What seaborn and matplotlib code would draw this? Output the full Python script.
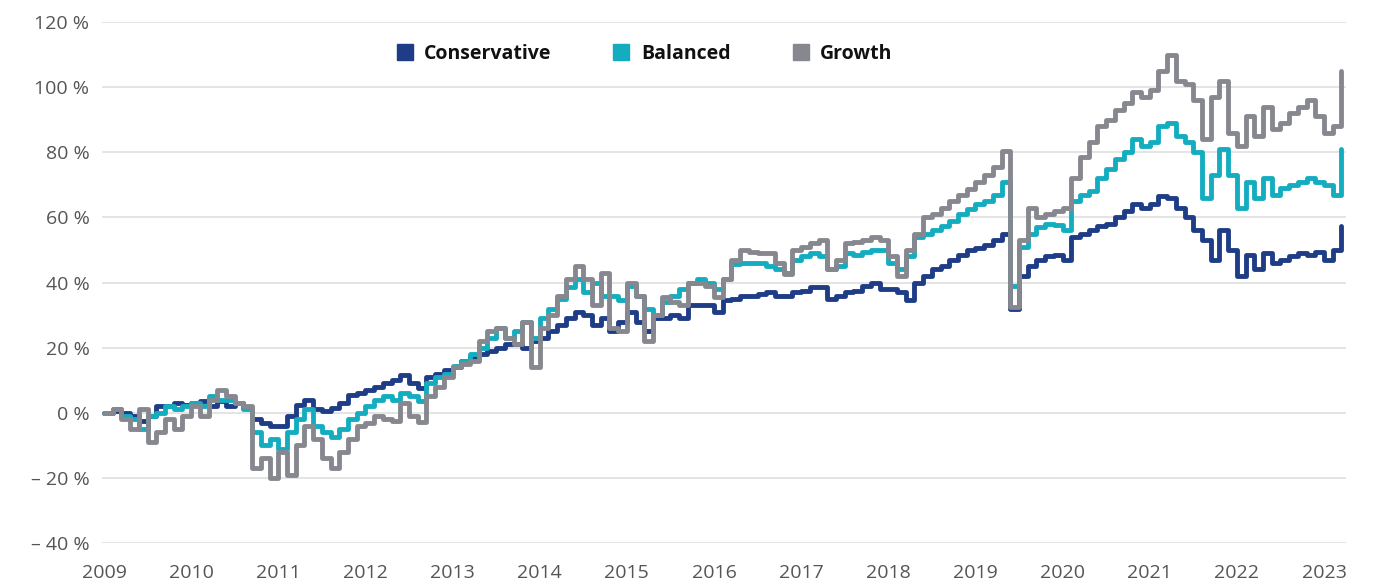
import numpy as np
import pandas as pd
import matplotlib
matplotlib.use("Agg")
import matplotlib.pyplot as plt
from matplotlib.lines import Line2D
import seaborn as sns

# ---- data (cumulative performance, %) ----
start_year = 2009.0
step = 0.1

conservative = [
    0, 0.5, 0, -1, -2.5, -1, 2, 2, 3, 2.5,
    3, 3.5, 2, 3.5, 2, 3, 1.5, -2, -3, -4,
    -4, -1, 2.5, 4, 1, 0.5, 1.5, 3, 5.5, 6,
    7, 8, 9, 10, 11.5, 9, 7.5, 11, 12, 13,
    14, 16, 17, 18, 19, 20, 21, 21, 20, 22,
    23, 25, 27, 29, 31, 30, 27, 29, 25, 28,
    31, 28, 25, 29, 29, 30, 29, 33, 33, 33,
    31, 34.5, 35, 36, 36, 36.5, 37, 36, 36, 37,
    37.5, 38.5, 38.5, 35, 36, 37, 37.5, 39, 40, 38,
    38, 37, 34.5, 40, 42, 44, 45, 47, 48.5, 50,
    50.5, 51.5, 53, 55, 32, 42, 45, 47, 48, 48.5,
    47, 54, 55, 56, 57.5, 58, 60, 62, 64, 63,
    64, 66.5, 66, 63, 60, 56, 53, 47, 56, 50,
    42, 48.5, 44, 49, 46, 47, 48, 49, 48.5, 49.5,
    47, 50, 57.5,
]

balanced = [
    0, 1, -1, -2, -5, -1, 0, 2, 1, 2,
    3, 2, 5, 4, 4, 3, 1, -6, -10, -8,
    -11, -6, -2, 1, -4, -6, -7.5, -5, -2, 0,
    2, 4, 5, 4, 6, 5, 3.5, 9, 11, 12,
    14.5, 16, 18, 20, 23, 26, 23, 25, 28, 23,
    29, 32, 35, 38.5, 41, 37, 40, 36, 36, 34.5,
    39, 36, 32, 30, 34, 36, 38, 40, 41, 40,
    38, 41, 45.7, 46, 46, 46, 45, 44, 43, 47,
    48, 49, 48, 44, 45, 49, 48.5, 49.5, 50, 50,
    46, 44, 48, 54, 55, 56, 57.5, 59, 61, 62.7,
    64, 65, 67, 71, 39, 51, 55, 57, 58, 57.7,
    56, 65, 67, 68, 72, 75, 78, 80, 84, 82,
    83, 88, 89, 85, 83, 80, 66, 73, 81, 73,
    63, 71, 66, 72, 67, 69, 70, 71, 72, 71,
    70, 67, 81,
]

growth = [
    0, 1, -2, -5, 1, -9, -6, -2, -5, -1,
    2, -1, 4, 7, 5, 3, 2, -17, -14, -20,
    -12, -19, -10, -4, -8, -14, -17, -12, -8, -4,
    -3, -1, -2, -2.5, 3, -1, -2.8, 5, 8, 11,
    14, 15, 16, 22, 25, 26, 23, 21, 28, 14,
    26, 30, 36, 41, 45, 41, 33, 43, 26, 25,
    40, 36, 22, 30, 35.5, 34, 33, 40, 40, 39,
    35.5, 41, 47, 50, 49.5, 49, 49, 46, 42.6, 50,
    51, 52, 53, 44, 47, 52, 52.5, 53, 54, 53,
    48, 42, 50, 55, 60, 61, 63, 65, 67, 68.6,
    71, 73, 75.5, 80.5, 32.4, 53, 63, 60, 61, 62,
    63, 72, 78.6, 83, 88, 90, 93, 95, 98.5, 97,
    99, 105, 110, 102, 101, 96, 84, 97, 102, 86,
    82, 91, 85, 94, 87, 89, 92, 94, 96, 91,
    86, 88, 105,
]

series_names = ["Conservative", "Balanced", "Growth"]
colors = ["#1f3d87", "#14adc0", "#87888f"]
year_ticks = list(range(2009, 2024))
y_ticks = [-40, -20, 0, 20, 40, 60, 80, 100, 120]
y_tick_labels = ["\u2013 40 %", "\u2013 20 %", "0 %", "20 %", "40 %", "60 %",
                 "80 %", "100 %", "120 %"]

n = len(conservative)
assert len(balanced) == n and len(growth) == n
dates = np.round(start_year + step * np.arange(n), 3)

df = pd.concat([
    pd.DataFrame({"date": dates, "value": vals, "fund": name})
    for name, vals in zip(series_names, [conservative, balanced, growth])
])

# ---- style ----
sns.set_theme(style="white")
plt.rcParams["font.family"] = ["Open Sans", "DejaVu Sans"]

fig = plt.figure(figsize=(13.84, 5.87), dpi=100)
ax = fig.add_axes([102 / 1384, 1 - 543 / 587, (1346 - 102) / 1384, (543 - 22) / 587])

palette = dict(zip(series_names, colors))
sns.lineplot(data=df, x="date", y="value", hue="fund", palette=palette,
             hue_order=series_names, ax=ax, legend=False, linewidth=3.5,
             drawstyle="steps-post", solid_capstyle="round", estimator=None)

ax.set_xlim(2008.977, 2023.253)
ax.set_ylim(-40, 120)
ax.set_xticks(year_ticks)
ax.set_xticklabels([str(y) for y in year_ticks])
ax.set_yticks(y_ticks)
ax.set_yticklabels(y_tick_labels)
ax.set_xlabel("")
ax.set_ylabel("")
for s in ax.spines.values():
    s.set_visible(False)
ax.grid(axis="y", color="#dcdcdc", linewidth=1.1)
ax.grid(axis="x", visible=False)
ax.set_axisbelow(True)
ax.tick_params(axis="both", length=0, labelsize=14, colors="#555555")
ax.tick_params(axis="x", pad=15)
ax.tick_params(axis="y", pad=9)

handles = [Line2D([0], [0], marker="s", linestyle="none", markersize=12,
                  markerfacecolor=c, markeredgecolor=c) for c in colors]
leg = fig.legend(handles, series_names, loc="center", ncol=3,
                 bbox_to_anchor=(0.465, 1 - 54 / 587), frameon=False,
                 prop={"family": "Open Sans", "weight": "bold", "size": 14},
                 handletextpad=0.5, columnspacing=3.1, handlelength=1.0)
for t in leg.get_texts():
    t.set_color("#111111")

fig.savefig("out.png", dpi=100)
